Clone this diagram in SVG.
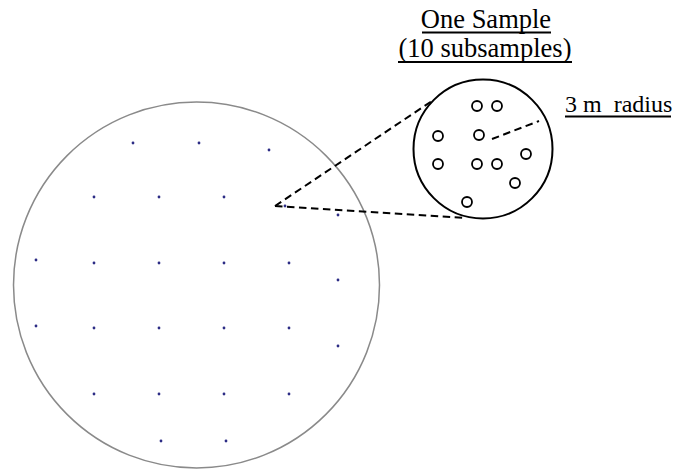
<svg xmlns="http://www.w3.org/2000/svg" width="673" height="469" viewBox="0 0 673 469">
  <style>
    .field { fill: none; stroke: #8a8a8a; stroke-width: 1.5; }
    .pt { fill: #2c2c85; }
    .plot { fill: none; stroke: #000; stroke-width: 2; }
    .sub { fill: none; stroke: #000; stroke-width: 1.8; }
    .dash { fill: none; stroke: #000; stroke-width: 2; stroke-dasharray: 7.5 4.5; }
    .lbl { font-family: "Liberation Serif", "Times New Roman", serif; fill: #000; white-space: pre; }
    .ul { stroke: #000; stroke-width: 2; }
  </style>
  <rect width="673" height="469" fill="#fff"/>

  <!-- Field boundary with grid of sampling points -->
  <g id="field">
    <circle class="field" cx="196.5" cy="285" r="183"/>
    <g id="field-points">
      <circle class="pt" cx="133" cy="143" r="1.4"/>
      <circle class="pt" cx="199" cy="143" r="1.4"/>
      <circle class="pt" cx="269" cy="150" r="1.4"/>
      <circle class="pt" cx="94" cy="197" r="1.4"/>
      <circle class="pt" cx="159" cy="197" r="1.4"/>
      <circle class="pt" cx="224" cy="197" r="1.4"/>
      <circle class="pt" cx="285" cy="206" r="1.4"/>
      <circle class="pt" cx="338" cy="215" r="1.4"/>
      <circle class="pt" cx="36" cy="260" r="1.4"/>
      <circle class="pt" cx="94" cy="263" r="1.4"/>
      <circle class="pt" cx="159" cy="263" r="1.4"/>
      <circle class="pt" cx="224" cy="263" r="1.4"/>
      <circle class="pt" cx="289" cy="263" r="1.4"/>
      <circle class="pt" cx="338" cy="280" r="1.4"/>
      <circle class="pt" cx="36" cy="326" r="1.4"/>
      <circle class="pt" cx="94" cy="328" r="1.4"/>
      <circle class="pt" cx="159" cy="328" r="1.4"/>
      <circle class="pt" cx="224" cy="328" r="1.4"/>
      <circle class="pt" cx="289" cy="328" r="1.4"/>
      <circle class="pt" cx="338" cy="346" r="1.4"/>
      <circle class="pt" cx="94" cy="394" r="1.4"/>
      <circle class="pt" cx="159" cy="394" r="1.4"/>
      <circle class="pt" cx="224" cy="394" r="1.4"/>
      <circle class="pt" cx="289" cy="394" r="1.4"/>
      <circle class="pt" cx="161" cy="441" r="1.4"/>
      <circle class="pt" cx="226" cy="441" r="1.4"/>
    </g>
  </g>

  <!-- Enlarged sample plot with its ten subsamples -->
  <g id="sample">
    <circle class="plot" cx="483" cy="149" r="69.5"/>
    <circle class="sub" cx="477" cy="106" r="5"/>
    <circle class="sub" cx="497" cy="106" r="5"/>
    <circle class="sub" cx="438" cy="136" r="5"/>
    <circle class="sub" cx="479" cy="135" r="5"/>
    <circle class="sub" cx="438" cy="164" r="5"/>
    <circle class="sub" cx="477" cy="164" r="5"/>
    <circle class="sub" cx="497" cy="164" r="5"/>
    <circle class="sub" cx="526" cy="154" r="5"/>
    <circle class="sub" cx="515" cy="183" r="5"/>
    <circle class="sub" cx="467" cy="202" r="5"/>
  </g>

  <!-- Zoom lines and plot radius -->
  <g id="connectors">
    <line class="dash" x1="275" y1="206" x2="432" y2="101"/>
    <line class="dash" x1="275" y1="206" x2="466" y2="218"/>
    <line class="dash" x1="492" y1="139" x2="539" y2="121"/>
  </g>

  <!-- Labels (underlined) -->
  <g id="title">
    <text class="lbl" x="486" y="28" font-size="26.5" text-anchor="middle">One Sample</text>
    <line class="ul" x1="422" y1="32.5" x2="551" y2="32.5"/>
    <text class="lbl" x="485" y="57" font-size="26.5" text-anchor="middle">(10 subsamples)</text>
    <line class="ul" x1="398" y1="62" x2="572" y2="62"/>
  </g>
  <g id="radius-label">
    <text class="lbl" x="565" y="112" font-size="24">3 m  radius</text>
    <line class="ul" x1="565" y1="116.5" x2="671" y2="116.5"/>
  </g>
</svg>
